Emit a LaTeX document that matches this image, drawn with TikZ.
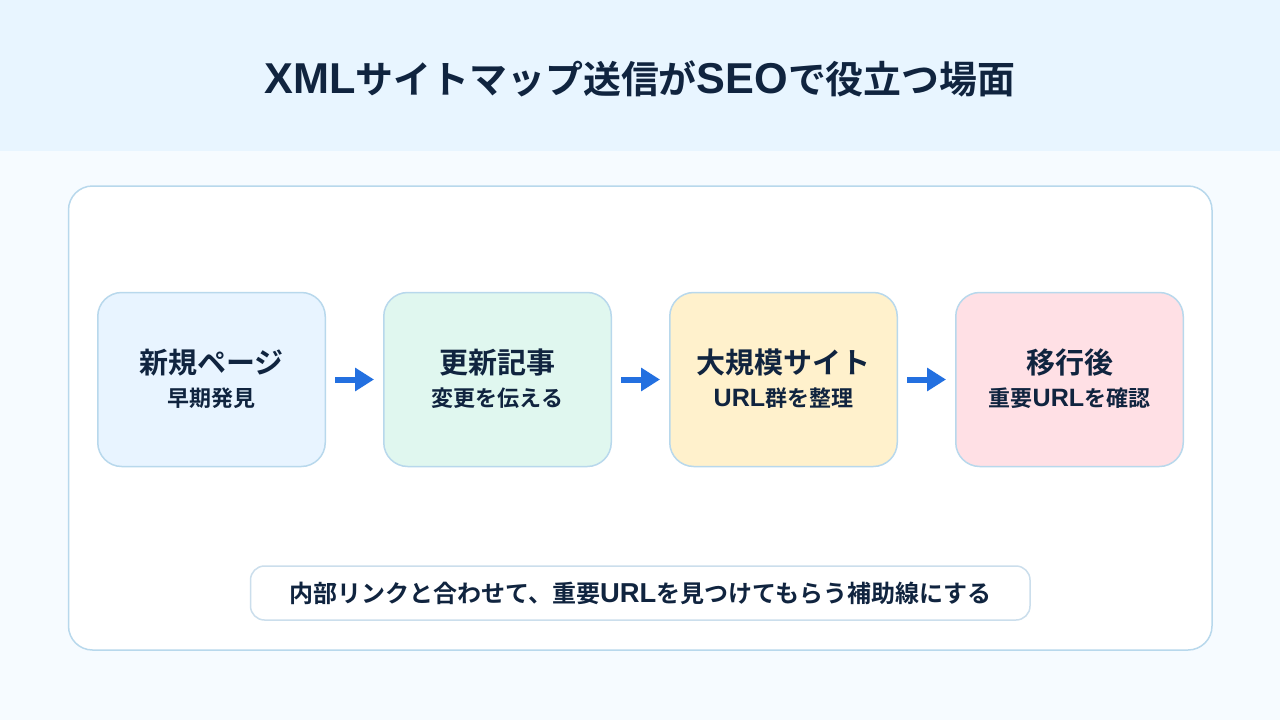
\documentclass[tikz,border=0pt]{standalone}
\usepackage{fontspec}
\setmainfont{Noto Sans CJK JP Bold}
\newfontfamily\latn{Liberation Sans Bold}[Scale=1.14]
\newcommand{\lt}[1]{{\latn #1}}
\usetikzlibrary{arrows.meta}
\definecolor{ink}{HTML}{10243F}
\definecolor{page}{HTML}{F6FBFF}
\definecolor{band}{HTML}{E8F5FF}
\definecolor{edge}{HTML}{B8D8EC}
\definecolor{pilledge}{HTML}{CBDEEC}
\definecolor{flowblue}{HTML}{2370E0}
\definecolor{fa}{HTML}{E8F4FF}
\definecolor{fb}{HTML}{E0F7EF}
\definecolor{fc}{HTML}{FFF1CC}
\definecolor{fd}{HTML}{FFE0E5}
\tikzset{
  stepbox/.style={draw=edge,line width=1.5pt,rounded corners=24pt,minimum width=227.5pt,minimum height=174pt,inner sep=0pt,text=ink,align=center,anchor=center},
  flow/.style={draw=flowblue,line width=6pt,-{Triangle[length=19pt,width=22.5pt,fill=flowblue]},shorten <=9pt,shorten >=9pt},
}
\newcommand{\boxtext}[2]{\raisebox{2pt}[\height][\depth]{\fontsize{29pt}{36pt}\selectfont #1}\\[9pt]{\fontsize{22pt}{28pt}\selectfont #2}}
\begin{document}
\begin{tikzpicture}[x=1pt,y=-1pt]
\useasboundingbox (0,0) rectangle (1280,720);
\fill[page] (0,0) rectangle (1280,720);
\fill[band] (0,0) rectangle (1280,151);
\node[text=ink,font=\fontsize{37.9pt}{46pt}\selectfont,inner sep=0pt] (title) at (640,79) {\lt{XML}サイトマップ送信が\lt{SEO}で役立つ場面};
\node[draw=edge,fill=white,line width=1.5pt,rounded corners=24pt,minimum width=1143.5pt,minimum height=464pt,inner sep=0pt] (card) at (640.25,418) {};
\node[stepbox,fill=fa] (a) at (211.5,379.5) {\boxtext{新規ページ}{早期発見}};
\node[stepbox,fill=fb] (b) at (497.5,379.5) {\boxtext{更新記事}{変更を伝える}};
\node[stepbox,fill=fc] (c) at (783.5,379.5) {\boxtext{大規模サイト}{\lt{URL}群を整理}};
\node[stepbox,fill=fd] (d) at (1069.5,379.5) {\boxtext{移行後}{重要\lt{URL}を確認}};
\draw[flow] (a) -- (b);
\draw[flow] (b) -- (c);
\draw[flow] (c) -- (d);
\node[draw=pilledge,fill=white,line width=1.5pt,rounded corners=14pt,minimum width=779.5pt,minimum height=54pt,inner sep=0pt,text=ink,font=\fontsize{24pt}{30pt}\selectfont] (note) at (640.25,593) {内部リンクと合わせて、重要\lt{URL}を見つけてもらう補助線にする};
\end{tikzpicture}
\end{document}
